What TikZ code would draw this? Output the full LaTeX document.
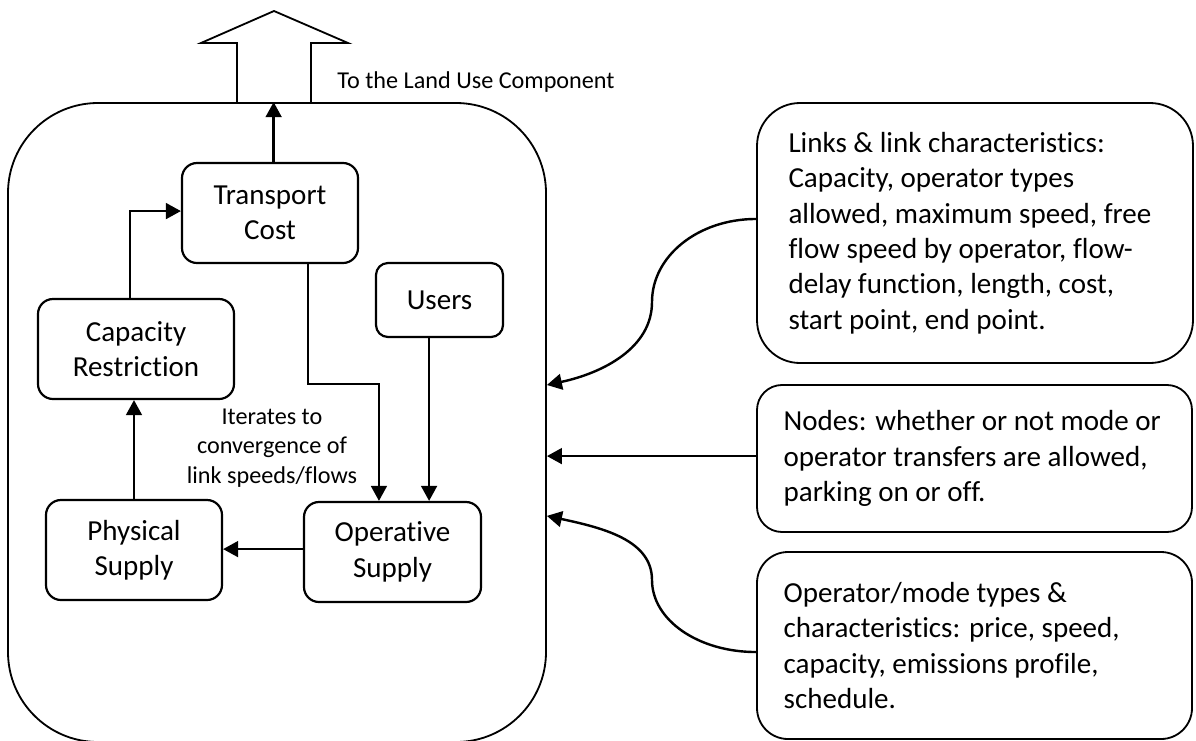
\documentclass[tikz,border=0pt]{standalone}
\usepackage{fontspec}
\setmainfont{Carlito}[RawFeature={-liga,-clig,-calt,-dlig,-rlig}]
\usetikzlibrary{arrows.meta,calc}
\newlength\pxl
\setlength\pxl{0.4133pt}
\newcommand\mainfs{\fontsize{12}{14.65}\selectfont}
\newcommand\smallfs{\fontsize{10}{12.2}\selectfont}
\newcommand\tisep{t\kern0pt i}
\begin{document}
\begin{tikzpicture}[x=0.4133pt,y=-0.4133pt,
  inbox/.style={draw, line width=0.9pt, rounded corners=15\pxl, align=center, font=\mainfs, inner sep=0pt},
  outbox/.style={draw, line width=0.75pt, inner sep=0pt},
  txt/.style={inner sep=0pt, align=left, font=\mainfs},
  conn/.style={line width=1pt, -{Triangle[length=6.2pt,width=6.5pt]}},
]
\useasboundingbox (0,0) rectangle (1196,740);
% main component box
\node[outbox, rounded corners=90\pxl, minimum width=538\pxl, minimum height=639\pxl] (big) at (277,422.5) {};
% block arrow to land use
\draw[line width=0.75pt, line join=miter] (237,103) -- (237,43) -- (201,43) -- (274,11) -- (348,43) -- (311,43) -- (311,103);
\node[anchor=base west, inner sep=0pt, font=\smallfs] (lbl) at (337,88) {To the Land Use Component};
% inner boxes
\node[inbox, minimum width=176\pxl, minimum height=100\pxl] (tc) at (270,213) {Transport\\Cost};
\node[inbox, rounded corners=12\pxl, minimum width=127\pxl, minimum height=74\pxl] (us) at (439.5,300) {Users};
\node[inbox, minimum width=196\pxl, minimum height=100\pxl] (cr) at (136,349) {Capacity\\Restric\tisep on};
\node[inbox, minimum width=176\pxl, minimum height=100\pxl] (ps) at (134,550) {Physical\\Supply};
\node[inbox, minimum width=177\pxl, minimum height=100\pxl] (os) at (392.5,552) {Opera\tisep ve\\Supply};
\node[align=center, font=\smallfs, inner sep=0pt] (it) at (272,448) {Iterates to\\convergence of\\link speeds/flows};
% right boxes
\node[outbox, rounded corners=43\pxl, minimum width=436\pxl, minimum height=260\pxl] (b1) at (975,233) {};
\node[txt, anchor=west] (t1) at ([xshift=13.2pt]b1.west) {Links \& link characteris\tisep cs:\\Capacity, operator types\\allowed, maximum speed, free\\flow speed by operator, flow-\\delay func\tisep on, length, cost,\\start point, end point.};
\node[outbox, rounded corners=25\pxl, minimum width=435\pxl, minimum height=147\pxl] (b2) at (974.5,458.5) {};
\node[txt, anchor=west] (t2) at ([xshift=11.2pt]b2.west) {Nodes: whether or not mode or\\operator transfers are allowed,\\parking on or off.};
\node[outbox, rounded corners=31\pxl, minimum width=435\pxl, minimum height=187\pxl] (b3) at (974.5,645.5) {};
\node[txt, anchor=west] (t3) at ([xshift=11.2pt]b3.west) {Operator/mode types \&\\characteris\tisep cs: price, speed,\\capacity, emissions profile,\\schedule.};
% helper coordinates
\coordinate (tcN) at ([xshift=1.5pt]tc.north);
\coordinate (crN) at ([xshift=-2.5pt]cr.north);
\coordinate (tcW) at ([yshift=0.8pt]tc.west);
\coordinate (tcS) at ([xshift=15.7pt]tc.south);
\coordinate (osN) at ([xshift=-5.6pt]os.north);
\coordinate (usS) at ([xshift=-4.3pt]us.south);
\coordinate (osW) at ([yshift=1.2pt]os.west);
\coordinate (b1W) at ([yshift=5.8pt]b1.west);
\coordinate (b2W) at ([yshift=1pt]b2.west);
\coordinate (b3W) at ([yshift=-2.7pt]b3.west);
\coordinate (m1) at (652,302);
\coordinate (m3) at (652,580);
\coordinate (e1) at ([yshift=15.5pt]big.east);
\coordinate (e3) at ([yshift=-38.6pt]big.east);
% connectors
\draw[conn] (tcN) -- (tcN |- big.north);
\draw[conn] (crN) |- (tcW);
\draw[conn] (ps.north) -- (ps.north |- cr.south);
\draw[conn] (tcS) -- ++(0,120) -| (osN);
\draw[conn] (usS) -- (usS |- os.north);
\draw[conn] (osW) -- (osW -| ps.east);
\draw[conn] (b1W) .. controls +(-58,0) and +(0,-46) .. (m1) .. controls +(0,46) and +(56,-12) .. (e1);
\draw[conn] (b2W) -- (b2W -| big.east);
\draw[conn] (b3W) .. controls +(-58,0) and +(0,40) .. (m3) .. controls +(0,-40) and +(56,12) .. (e3);
\end{tikzpicture}
\end{document}
